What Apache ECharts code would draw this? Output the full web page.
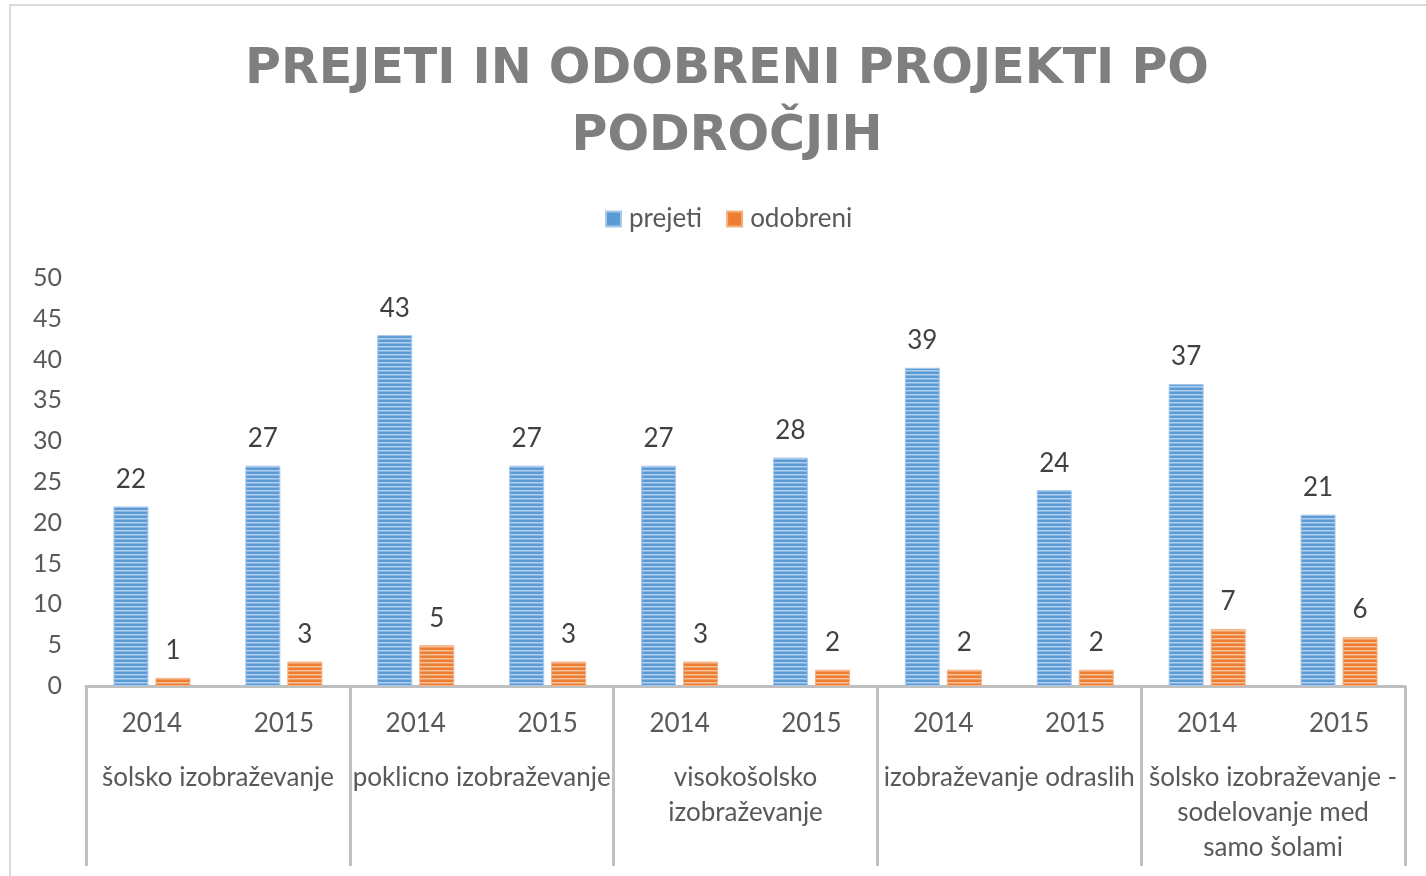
<!DOCTYPE html>
<html>
<head>
<meta charset="utf-8">
<script src="https://cdn.jsdelivr.net/npm/echarts@6/dist/echarts.min.js"></script>
<style>
  html, body { margin: 0; padding: 0; background: #fff; }
  #chart { width: 1426px; height: 876px; }
</style>
</head>
<body>
<div id="chart"></div>
<script>
const years = ['2014', '2015', '2014', '2015', '2014', '2015', '2014', '2015', '2014', '2015'];
const groups = [
    'šolsko izobraževanje',
    'poklicno izobraževanje',
    'visokošolsko\nizobraževanje',
    'izobraževanje odraslih',
    'šolsko izobraževanje -\nsodelovanje med\nsamo šolami'
];
const prejeti = [22, 27, 43, 27, 27, 28, 39, 24, 37, 21];
const odobreni = [1, 3, 5, 3, 3, 2, 2, 2, 7, 6];

// striped fill like the original
function stripes(dark, light, mid) {
    const c = document.createElement('canvas');
    c.width = 4;
    c.height = 4;
    const ctx = c.getContext('2d');
    ctx.fillStyle = dark;
    ctx.fillRect(0, 0, 4, 2);
    ctx.fillStyle = light;
    ctx.fillRect(0, 2, 4, 1);
    ctx.fillStyle = mid;
    ctx.fillRect(0, 3, 4, 1);
    return { image: c, repeat: 'repeat' };
}

const font = 'Lato';
const blue = stripes('#5b9bd5', '#b4d0ee', '#86b5e2');
const orange = stripes('#ed7d31', '#f7c4a0', '#f19f67');

let chart = echarts.init(document.getElementById('chart'));
chart.setOption({
    animation: false,
    textStyle: { fontFamily: font },
    title: {
        text: 'PREJETI IN ODOBRENI PROJEKTI PO\nPODROČJIH',
        left: 722,
        top: 32,
        textAlign: 'center',
        textStyle: {
            fontFamily: 'DejaVu Sans',
            fontWeight: 'bold',
            fontSize: 49,
            lineHeight: 67,
            color: '#7f7f7f'
        }
    },
    legend: {
        top: 201,
        left: 600,
        icon: 'rect',
        itemWidth: 15,
        itemHeight: 15,
        itemGap: 24,
        textStyle: { fontSize: 26, color: '#595959', fontFamily: font, padding: [0, 0, 0, 3] },
        data: [
            { name: 'prejeti', itemStyle: { color: '#5b9bd5' } },
            { name: 'odobreni', itemStyle: { color: '#ed7d31' } }
        ]
    },
    grid: { left: 86, right: 21, top: 278, bottom: 190 },
    graphic: [{
        type: 'rect',
        shape: { x: 10, y: 5, width: 1500, height: 1000 },
        style: { fill: 'none', stroke: '#d9d9d9', lineWidth: 2 },
        silent: true,
        z: -1
    }],
    xAxis: [{
        type: 'category',
        data: years,
        axisLine: { lineStyle: { color: '#bfbfbf', width: 3 } },
        axisTick: { show: false },
        axisLabel: { fontSize: 26, color: '#595959', margin: 23, lineHeight: 30 }
    }, {
        type: 'category',
        data: groups,
        position: 'bottom',
        axisLine: { show: false },
        axisTick: { show: true, length: 180, lineStyle: { color: '#bfbfbf', width: 3 } },
        axisLabel: { fontSize: 26, color: '#595959', margin: 74, lineHeight: 35, interval: 0 }
    }],
    yAxis: {
        type: 'value',
        min: 0,
        max: 50,
        interval: 5,
        splitLine: { show: false },
        axisLine: { show: false },
        axisTick: { show: false },
        axisLabel: { fontSize: 25, color: '#595959', margin: 24 }
    },
    series: [{
        name: 'prejeti',
        type: 'bar',
        data: prejeti,
        barWidth: 35,
        barGap: '20%',
        itemStyle: { color: blue, borderColor: '#a9c8ea', borderWidth: 1 },
        label: { show: true, position: 'top', distance: 14, fontSize: 26, color: '#404040' }
    }, {
        name: 'odobreni',
        type: 'bar',
        data: odobreni,
        barWidth: 35,
        itemStyle: { color: orange, borderColor: '#f4b183', borderWidth: 1 },
        label: { show: true, position: 'top', distance: 14, fontSize: 26, color: '#404040' }
    }]
});
</script>
</body>
</html>
